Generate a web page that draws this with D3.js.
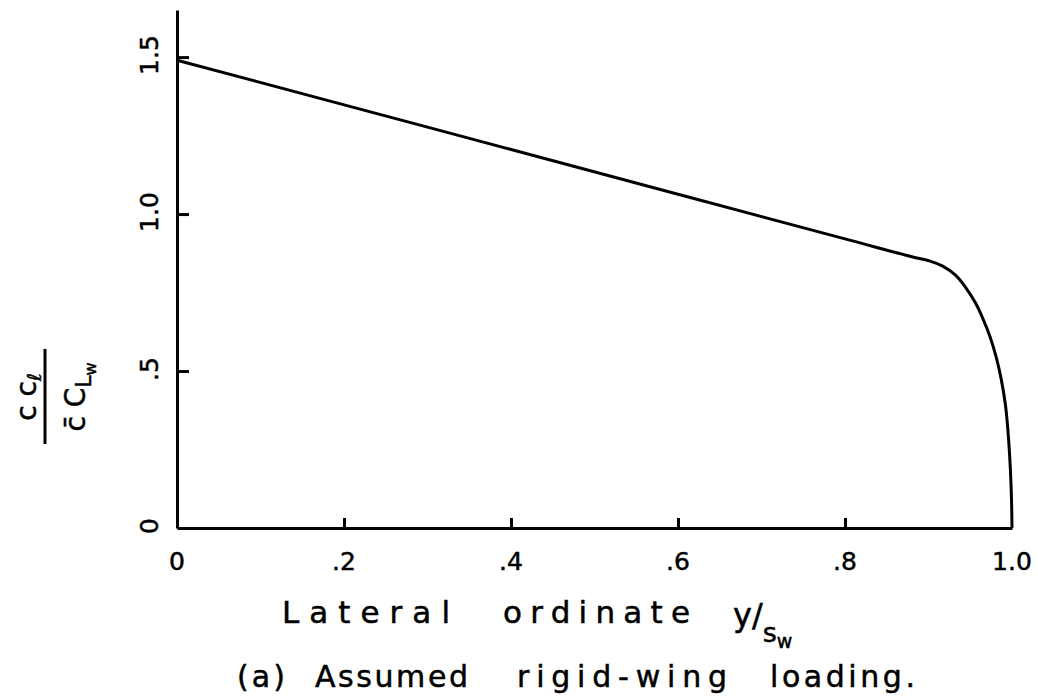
<!DOCTYPE html>
<meta charset="utf-8">
<style>
body { margin: 0; background: #fff; }
text { font-family: "DejaVu Sans", sans-serif; fill: #000; stroke: #000; stroke-width: 0.5; }
.axis path, .axis line { stroke: #000; stroke-width: 3; }
.curve { fill: none; stroke: #000; stroke-width: 3; }
</style>
<body>
<script src="https://cdnjs.cloudflare.com/ajax/libs/d3/7.8.5/d3.min.js"></script>
<script>

// span station y/s_w and loading c cl / (cbar CLw)
var spanX = [0, 0.3, 0.6, 0.8, 0.88, 0.902, 0.917, 0.932, 0.944, 0.956, 0.965, 0.974, 0.981, 0.987, 0.992, 0.995, 0.998, 0.9994, 1.0];
var loadY = [1.49, 1.277, 1.063, 0.921, 0.864, 0.85, 0.834, 0.806, 0.768, 0.718, 0.668, 0.607, 0.545, 0.475, 0.395, 0.315, 0.19, 0.09, 0];

var xTicks = [0, 0.2, 0.4, 0.6, 0.8, 1.0];
var xTickLabels = ["0", ".2", ".4", ".6", ".8", "1.0"];
var yTicks = [0, 0.5, 1.0, 1.5];
var yTickLabels = ["0", ".5", "1.0", "1.5"];

var width = 1038, height = 700;

var svg = d3.select("body").append("svg")
    .attr("width", width)
    .attr("height", height);

var x = d3.scaleLinear().domain([0, 1]).range([177, 1012]);
var y = d3.scaleLinear().domain([0, 1.65]).range([528, 10]);

// axes, ticks point inward
svg.append("g")
    .attr("class", "axis")
    .attr("transform", "translate(0," + y(0) + ")")
    .call(d3.axisBottom(x).tickValues(xTicks.slice(1, 5)).tickSizeInner(-10).tickSizeOuter(0).tickFormat(""));

svg.append("g")
    .attr("class", "axis")
    .attr("transform", "translate(" + x(0) + ",0)")
    .call(d3.axisLeft(y).tickValues(yTicks.slice(1)).tickSizeInner(-12).tickSizeOuter(0).tickFormat(""));

// tick labels
svg.selectAll(".xl").data(xTicks).enter().append("text")
    .attr("class", "xl")
    .attr("x", function(d) { return x(d); })
    .attr("y", 570)
    .attr("text-anchor", "middle")
    .style("font-size", "25px")
    .text(function(d, i) { return xTickLabels[i]; });

svg.selectAll(".yl").data(yTicks).enter().append("text")
    .attr("class", "yl")
    .attr("transform", function(d) { return "translate(158," + (y(d) - 2) + ") rotate(-90)"; })
    .attr("text-anchor", "middle")
    .style("font-size", "25px")
    .text(function(d, i) { return yTickLabels[i]; });

// loading curve
var line = d3.line()
    .x(function(d, i) { return x(spanX[i]); })
    .y(function(d) { return y(d); })
    .curve(d3.curveCatmullRom.alpha(0.5));

svg.append("path")
    .attr("class", "curve")
    .attr("d", line(loadY));

// y label: c cl over cbar CLw, rotated
var yl = svg.append("g").attr("transform", "translate(45,397) rotate(-90)");
yl.append("line")
    .attr("x1", -47).attr("x2", 48)
    .attr("stroke", "#000").attr("stroke-width", 3);
var num = yl.append("text")
    .attr("y", -9)
    .attr("text-anchor", "middle")
    .style("font-size", "28px");
num.append("tspan").text("c c");
num.append("tspan").attr("dy", 5).style("font-size", "19px").text("\u2113");
var den = yl.append("text")
    .attr("y", 40)
    .attr("text-anchor", "middle")
    .style("font-size", "28px");
den.append("tspan").text("c\u0304 C");
den.append("tspan").attr("dy", 6).style("font-size", "22px").text("L");
den.append("tspan").attr("dy", 5).style("font-size", "16px").text("w");

// x axis title
var words = [
  {t: "Lateral", x: 282, w: 168},
  {t: "ordinate", x: 503, w: 187}
];
svg.selectAll(".xt").data(words).enter().append("text")
    .attr("class", "xt")
    .attr("x", function(d) { return d.x; })
    .attr("y", 623)
    .attr("textLength", function(d) { return d.w; })
    .attr("lengthAdjust", "spacing")
    .style("font-size", "31px")
    .text(function(d) { return d.t; });

var ys = svg.append("text")
    .attr("x", 733)
    .attr("y", 626)
    .style("font-size", "32px");
ys.append("tspan").text("y/");
ys.append("tspan").attr("dy", 16).style("font-size", "27px").text("s");
ys.append("tspan").attr("dy", 6).style("font-size", "19px").text("w");

// caption
var cap = [
  {t: "(a)", x: 237, w: 48},
  {t: "Assumed", x: 315, w: 153},
  {t: "rigid-wing", x: 517, w: 210},
  {t: "loading.", x: 770, w: 145}
];
svg.selectAll(".cap").data(cap).enter().append("text")
    .attr("class", "cap")
    .attr("x", function(d) { return d.x; })
    .attr("y", 687)
    .attr("textLength", function(d) { return d.w; })
    .attr("lengthAdjust", "spacing")
    .style("font-size", "30px")
    .text(function(d) { return d.t; });

</script>
</body>
